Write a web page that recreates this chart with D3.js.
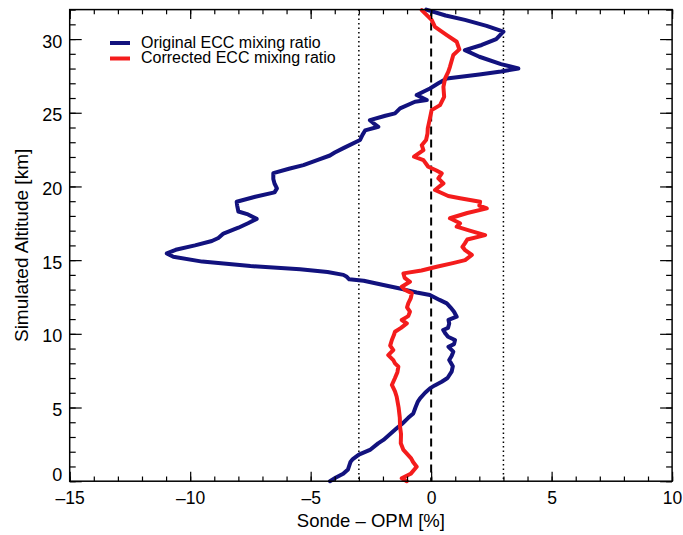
<!DOCTYPE html>
<html>
<head>
<meta charset="utf-8">
<script src="https://cdn.jsdelivr.net/npm/d3@7"></script>
<style>
  html, body { margin: 0; padding: 0; background: #fff; }
  svg { display: block; }
  text { font-family: "Liberation Sans", Arial, Helvetica, sans-serif; fill: #000; }
</style>
</head>
<body>
<svg id="chart" width="683" height="535"></svg>
<script>
// ---------- data ----------
const xDomain = [-15, 10];
const yDomain = [0, 32];
const xMajorTicks = [-15, -10, -5, 0, 5, 10];
const yMajorTicks = [0, 5, 10, 15, 20, 25, 30];
const refDotted = [-3, 3];
const refDashed = [0];

const seriesNames = ["Original ECC mixing ratio", "Corrected ECC mixing ratio"];
const seriesColors = ["#12127e", "#f41c1c"];

// Original ECC (blue): altitude [km] and Sonde - OPM [%]
const originalAlt = [0, 0.25, 0.5, 0.8, 1.3, 1.5, 1.8, 2.12, 2.57, 2.8, 3.2, 3.59, 3.9, 4.3, 4.6, 5.0, 5.4, 5.62, 6.0, 6.3, 6.5, 6.75, 7.0, 7.43, 7.8, 8.22, 8.5, 8.79, 9.12, 9.3, 9.58, 9.8, 10.0, 10.26, 10.4, 10.7, 10.94, 11.16, 11.5, 11.8, 12.07, 12.3, 12.52, 12.63, 12.8, 13.02, 13.31, 13.6, 13.7, 13.87, 14.0, 14.2, 14.38, 14.6, 14.9, 15.23, 15.46, 15.7, 16.0, 16.3, 16.5, 16.8, 17.2, 17.5, 17.8, 18.1, 18.3, 18.7, 18.96, 19.3, 19.6, 19.87, 20.2, 20.5, 20.9, 21.2, 21.45, 21.8, 22.1, 22.3, 22.6, 23.15, 23.5, 23.8, 24.05, 24.3, 24.5, 24.8, 24.96, 25.3, 25.75, 25.86, 26.2, 26.65, 27.0, 27.33, 27.6, 27.8, 28.0, 28.3, 28.8, 29.25, 29.6, 30.0, 30.5, 30.9, 31.3, 31.6, 32.0];
const originalVal = [-4.2, -3.95, -3.65, -3.45, -3.35, -3.25, -3.0, -2.54, -2.2, -1.98, -1.7, -1.43, -1.2, -0.95, -0.74, -0.65, -0.55, -0.46, -0.25, -0.05, 0.15, 0.44, 0.68, 0.85, 0.9, 0.75, 0.85, 0.92, 0.72, 0.95, 0.99, 0.7, 0.6, 0.5, 0.7, 0.75, 0.72, 1.06, 0.95, 0.8, 0.65, 0.35, 0.09, -0.05, -0.6, -1.15, -1.98, -2.8, -3.4, -3.5, -3.64, -4.3, -5.44, -7.5, -9.5, -10.7, -10.97, -10.6, -9.8, -9.1, -8.83, -8.62, -8.0, -7.6, -7.24, -7.6, -8.0, -8.05, -8.07, -7.3, -6.5, -6.4, -6.5, -6.55, -6.55, -5.9, -5.3, -4.7, -4.2, -4.0, -3.64, -2.95, -2.85, -2.74, -2.19, -2.4, -2.54, -1.9, -1.5, -1.29, -0.67, -0.18, -0.6, -0.05, 0.3, 0.65, 2.0, 2.9, 3.62, 2.9, 2.0, 1.4, 2.1, 2.7, 3.0, 2.3, 1.4, 0.6, -0.2];

// Corrected ECC (red)
const correctedAlt = [0, 0.2, 0.5, 0.98, 1.3, 1.55, 2.12, 2.57, 3.2, 3.7, 4.3, 5.0, 5.73, 6.1, 6.53, 7.0, 7.4, 7.77, 8.0, 8.22, 8.56, 8.9, 9.2, 9.58, 9.9, 10.14, 10.4, 10.71, 10.94, 11.2, 11.5, 11.8, 12.07, 12.4, 12.75, 13.0, 13.2, 13.53, 13.8, 14.1, 14.3, 14.55, 14.8, 15.0, 15.35, 15.68, 15.9, 16.14, 16.4, 16.7, 17.0, 17.27, 17.5, 17.84, 18.2, 18.51, 18.7, 18.96, 19.2, 19.35, 19.76, 20.0, 20.21, 20.55, 20.89, 21.1, 21.34, 21.79, 22.02, 22.47, 22.8, 23.15, 23.6, 23.94, 24.62, 25.18, 25.52, 26.08, 26.76, 27.33, 27.78, 28.12, 28.92, 29.3, 29.82, 30.27, 30.83, 31.3, 31.97];
const correctedVal = [-1.01, -1.22, -0.85, -0.6, -0.75, -0.83, -1.15, -1.26, -1.25, -1.29, -1.3, -1.35, -1.43, -1.5, -1.63, -1.5, -1.4, -1.36, -1.5, -1.57, -1.78, -1.57, -1.7, -1.63, -1.55, -1.5, -1.25, -1.01, -1.22, -0.95, -0.88, -1.0, -0.95, -0.85, -0.8, -1.1, -1.22, -0.88, -1.1, -1.15, -0.4, 0.23, 0.9, 1.41, 1.69, 1.41, 1.3, 1.4, 1.5, 2.24, 1.6, 1.06, 1.2, 0.78, 1.5, 2.31, 2.0, 2.03, 1.2, 0.71, 0.16, 0.35, 0.51, 0.3, 0.44, 0.2, -0.12, -0.32, -0.71, -0.32, -0.39, -0.21, -0.15, -0.14, -0.05, 0.02, 0.37, 0.54, 0.51, 0.58, 0.71, 0.78, 0.92, 1.17, 1.06, 0.65, 0.16, 0.02, -0.39];

const xTitle = "Sonde \u2013 OPM [%]";
const yTitle = "Simulated Altitude [km]";

// ---------- layout ----------
const pL = 69.7, pR = 672.1, pT = 9.6, pB = 481.2;
const svg = d3.select("#chart");

const x = d3.scaleLinear().domain(xDomain).range([pL, pR]);
const y = d3.scaleLinear().domain(yDomain).range([pB, pT]);

const fmt = d => (d < 0 ? "\u2013" + Math.abs(d) : String(d));

// reference lines
const g = svg.append("g");
g.selectAll("line.dot").data(refDotted).enter().append("line")
  .attr("x1", d => x(d)).attr("x2", d => x(d)).attr("y1", pT).attr("y2", pB)
  .attr("stroke", "#000").attr("stroke-width", 1.5).attr("stroke-dasharray", "1.5,3");
g.selectAll("line.dash").data(refDashed).enter().append("line")
  .attr("x1", d => x(d)).attr("x2", d => x(d)).attr("y1", pT).attr("y2", pB)
  .attr("stroke", "#000").attr("stroke-width", 2).attr("stroke-dasharray", "8,5");

// series
const series = [
  d3.zip(originalVal, originalAlt),
  d3.zip(correctedVal, correctedAlt)
];
const line = d3.line().x(d => x(d[0])).y(d => y(d[1]));
svg.append("g").selectAll("path").data(series).enter().append("path")
  .attr("d", line)
  .attr("fill", "none")
  .attr("stroke", (d, i) => seriesColors[i])
  .attr("stroke-width", 4)
  .attr("stroke-linejoin", "round")
  .attr("stroke-linecap", "round");

// axes: ticks inward on all four sides
const xMinor = d3.range(xDomain[0], xDomain[1] + 1, 1);
const yMinor = d3.range(yDomain[0], yDomain[1] + 1, 1);
const xTM = 9.4, xTm = 4.7, yTM = 12, yTm = 6;

function styleAxis(sel) {
  sel.selectAll("path.domain").remove();
  sel.selectAll(".tick line").attr("stroke", "#000").attr("stroke-width", 1.2);
}

// bottom
svg.append("g").attr("transform", `translate(0,${pB})`)
  .call(d3.axisBottom(x).tickValues(xMinor).tickSize(-xTm).tickFormat(""))
  .call(styleAxis);
const bAx = svg.append("g").attr("transform", `translate(0,${pB})`)
  .call(d3.axisBottom(x).tickValues(xMajorTicks).tickSizeInner(-xTM).tickSizeOuter(0).tickPadding(0).tickFormat(fmt))
  .call(styleAxis);
bAx.selectAll(".tick text").attr("y", 23).attr("dy", null)
  .style("font-size", "17.5px").attr("fill", "#000");

// top
svg.append("g").attr("transform", `translate(0,${pT})`)
  .call(d3.axisTop(x).tickValues(xMinor).tickSize(-xTm).tickFormat(""))
  .call(styleAxis);
svg.append("g").attr("transform", `translate(0,${pT})`)
  .call(d3.axisTop(x).tickValues(xMajorTicks).tickSize(-xTM).tickFormat(""))
  .call(styleAxis);

// left
svg.append("g").attr("transform", `translate(${pL},0)`)
  .call(d3.axisLeft(y).tickValues(yMinor).tickSize(-yTm).tickFormat(""))
  .call(styleAxis);
const lAx = svg.append("g").attr("transform", `translate(${pL},0)`)
  .call(d3.axisLeft(y).tickValues(yMajorTicks).tickSizeInner(-yTM).tickSizeOuter(0).tickFormat(fmt))
  .call(styleAxis);
lAx.selectAll(".tick text").attr("x", -7.5).attr("dy", null)
  .attr("y", d => d === 0 ? -1 : 8)
  .style("font-size", "18px").attr("fill", "#000");

// right
svg.append("g").attr("transform", `translate(${pR},0)`)
  .call(d3.axisRight(y).tickValues(yMinor).tickSize(-yTm).tickFormat(""))
  .call(styleAxis);
svg.append("g").attr("transform", `translate(${pR},0)`)
  .call(d3.axisRight(y).tickValues(yMajorTicks).tickSize(-yTM).tickFormat(""))
  .call(styleAxis);

// frame
svg.append("rect").attr("x", pL).attr("y", pT)
  .attr("width", pR - pL).attr("height", pB - pT)
  .attr("fill", "none").attr("stroke", "#000").attr("stroke-width", 1.5);

// titles
svg.append("text").attr("x", (pL + pR) / 2).attr("y", 527)
  .attr("text-anchor", "middle").style("font-size", "18.5px").text(xTitle);
svg.append("text")
  .attr("transform", `translate(28,${(pT + pB) / 2}) rotate(-90)`)
  .attr("text-anchor", "middle").style("font-size", "19px").text(yTitle);

// legend
const leg = svg.append("g").selectAll("g").data(seriesNames).enter().append("g")
  .attr("transform", (d, i) => `translate(0,${43 + i * 15.5})`);
leg.append("line").attr("x1", 110).attr("x2", 130).attr("y1", 0).attr("y2", 0)
  .attr("stroke", (d, i) => seriesColors[i]).attr("stroke-width", 4);
leg.append("text").attr("x", 141).attr("y", 4.5)
  .style("font-size", "16px").text(d => d);
</script>
</body>
</html>
